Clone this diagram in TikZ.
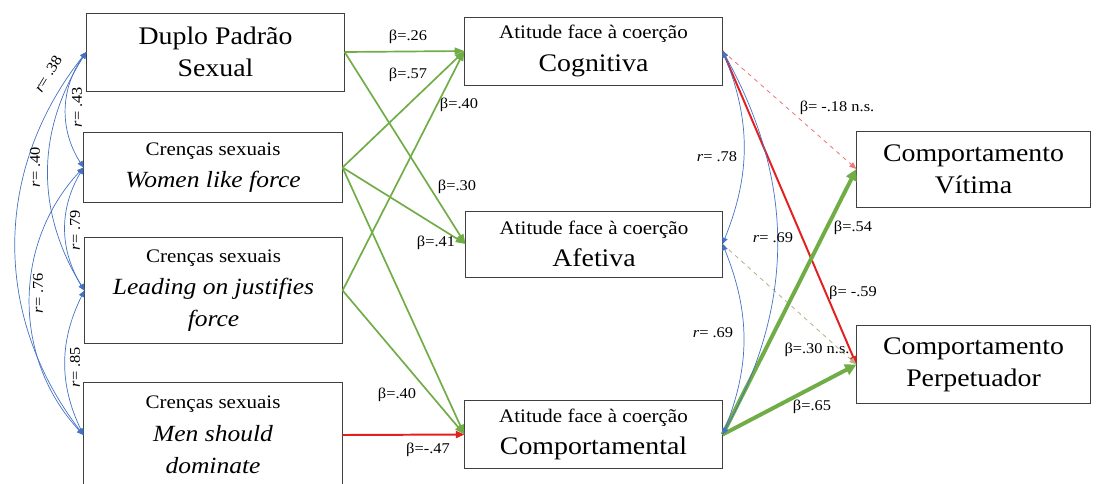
\documentclass[tikz,border=0pt]{standalone}
\usepackage{fontspec}
\setmainfont{Liberation Serif}[FakeStretch=1.1]
\definecolor{pathgreen}{RGB}{112, 173, 71}
\definecolor{corrblue}{RGB}{68, 114, 196}
\definecolor{negred}{RGB}{226, 32, 32}
\definecolor{nsred}{RGB}{236, 120, 120}
\definecolor{nsolive}{RGB}{184, 178, 140}
\definecolor{boxgray}{RGB}{64, 64, 64}
\usetikzlibrary{arrows.meta, positioning}
\newcommand{\bigfont}{\fontsize{18}{23}\selectfont}
\newcommand{\capfont}{\fontsize{13.6}{23}\selectfont}
\newcommand{\itfont}{\fontsize{16.5}{23}\selectfont\itshape}
\newcommand{\coeffont}{\fontsize{10.6}{12}\selectfont}

\begin{document}
\begin{tikzpicture}[x=0.025cm, y=-0.025cm,
  varbox/.style={draw=boxgray, line width=0.7pt, align=center, inner sep=0pt, font=\bigfont},
  effect/.style={draw=pathgreen, line width=1.2pt, -{Triangle[length=7pt, width=5pt]}},
  strong/.style={draw=pathgreen, line width=2.8pt, -{Triangle[length=8pt, width=8pt]}},
  negpath/.style={draw=negred, line width=1.4pt, -{Triangle[length=6pt, width=5pt]}},
  nsline/.style={line width=0.6pt, dashed, -{Triangle[length=5pt, width=4pt]}},
  corr/.style={draw=corrblue, line width=0.5pt, {Triangle[length=4.5pt, width=4pt]}-{Triangle[length=4.5pt, width=4pt]}},
  coef/.style={font=\coeffont, inner sep=1pt}]
  \useasboundingbox (0,0) rectangle (1103,483);

  % Predictors
  \node[varbox, minimum width=6.43cm, minimum height=1.95cm] (duplo) at (215.5, 52) {Duplo Padrão\\Sexual};
  \node[varbox, minimum width=6.45cm, minimum height=1.73cm] (women) at (213, 167.5) {{\capfont Crenças sexuais}\\{\itfont Women like force}};
  \node[varbox, minimum width=6.43cm, minimum height=2.63cm] (lead) at (213.5, 290.5) {{\capfont Crenças sexuais}\\{\itfont Leading on justifies}\\{\itfont force}};
  \node[varbox, minimum width=6.45cm, minimum height=2.63cm] (men) at (213, 435) {{\capfont Crenças sexuais}\\{\itfont Men should}\\{\itfont dominate}};

  % Attitudes
  \node[varbox, minimum width=6.43cm, minimum height=1.70cm] (cog) at (593.5, 51) {{\capfont Atitude face à coerção}\\Cognitiva};
  \node[varbox, minimum width=6.40cm, minimum height=1.65cm] (afe) at (594, 244) {{\capfont Atitude face à coerção}\\Afetiva};
  \node[varbox, minimum width=6.43cm, minimum height=1.68cm] (comp) at (593.5, 434.5) {{\capfont Atitude face à coerção}\\Comportamental};

  % Behaviours
  \node[varbox, minimum width=5.83cm, minimum height=1.90cm] (vit) at (973.5, 169) {Comportamento\\Vítima};
  \node[varbox, minimum width=5.83cm, minimum height=1.93cm] (perp) at (973.5, 364.5) {Comportamento\\Perpetuador};

  % Paths to attitudes
  \draw[effect] (duplo.east) -- (cog.west);
  \draw[effect] (duplo.east) -- (afe.west);
  \draw[effect] (women.east) -- (cog.west);
  \draw[effect] (women.east) -- (afe.west);
  \draw[effect] (women.east) -- (comp.west);
  \draw[effect] (lead.east) -- (cog.west);
  \draw[effect] (lead.east) -- (comp.west);
  \draw[negpath] (men.east) -- (comp.west);

  % Paths to behaviours
  \draw[nsline, nsred] (cog.east) -- (vit.west);
  \draw[negpath] (cog.east) -- (perp.west);
  \draw[nsline, nsolive] (afe.east) -- (perp.west);
  \draw[strong] (comp.east) -- (vit.west);
  \draw[strong] (comp.east) -- (perp.west);

  % Correlations
  \draw[corr] (duplo.west) to[bend right=34] (women.west);
  \draw[corr] (women.west) to[bend right=31] (lead.west);
  \draw[corr] (lead.west) to[bend right=26] (men.west);
  \draw[corr] (duplo.west) to[bend right=32] (lead.west);
  \draw[corr] (women.west) to[bend right=43] (men.west);
  \draw[corr] (duplo.west) to[bend right=38] (men.west);
  \draw[corr] (cog.east) to[bend left=22] (afe.east);
  \draw[corr] (cog.east) to[bend left=29] (comp.east);
  \draw[corr] (afe.east) to[bend left=22] (comp.east);

  % Coefficients
  \node[coef] (b26) at (408, 37) {β=.26};
  \node[coef] (b57) at (408, 75) {β=.57};
  \node[coef] (b40c) at (459, 105) {β=.40};
  \node[coef] (b30) at (457, 187) {β=.30};
  \node[coef] (b41) at (436, 243) {β=.41};
  \node[coef] (b40p) at (397, 395) {β=.40};
  \node[coef] (b47) at (428, 450) {β=-.47};
  \node[coef] (b18) at (837, 108) {β= -.18 n.s.};
  \node[coef] (b54) at (853, 228) {β=.54};
  \node[coef] (b59) at (853, 293) {β= -.59};
  \node[coef] (b30ns) at (817, 350) {β=.30 n.s.};
  \node[coef] (b65) at (812, 407) {β=.65};
  \node[coef] (r78) at (717, 157) {\textit{r}= .78};
  \node[coef] (r69a) at (773, 238) {\textit{r}= .69};
  \node[coef] (r69b) at (713, 333) {\textit{r}= .69};
  \node[coef, rotate=90] (r43) at (77, 107) {\textit{r}= .43};
  \node[coef, rotate=90] (r79) at (75, 230) {\textit{r}= .79};
  \node[coef, rotate=90] (r85) at (75, 367) {\textit{r}= .85};
  \node[coef, rotate=90] (r40) at (35, 167) {\textit{r}= .40};
  \node[coef, rotate=90] (r76) at (38, 293) {\textit{r}= .76};
  \node[coef, rotate=59] (r38) at (48, 74) {\textit{r}= .38};
\end{tikzpicture}
\end{document}
